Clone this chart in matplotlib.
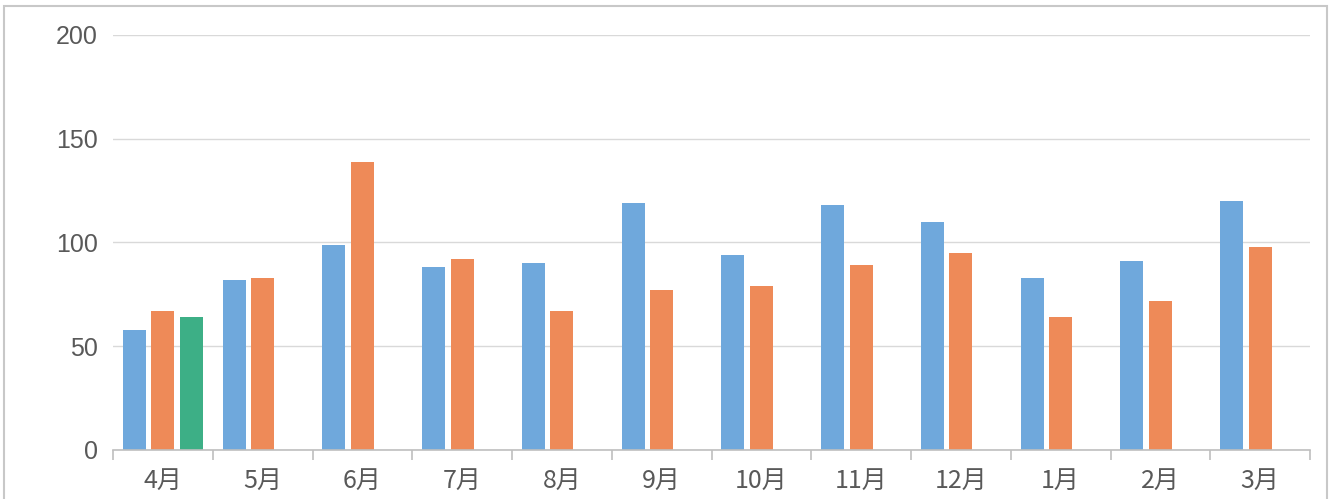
import numpy as np
import matplotlib.pyplot as plt
from matplotlib.patches import Rectangle

plt.rcParams['font.family'] = ['Liberation Sans', 'Noto Sans CJK JP', 'DejaVu Sans']

# data
months = ['4月', '5月', '6月', '7月', '8月', '9月', '10月', '11月', '12月', '1月', '2月', '3月']
series_a = [58, 82, 99, 88, 90, 119, 94, 118, 110, 83, 91, 120]
series_b = [67, 83, 139, 92, 67, 77, 79, 89, 95, 64, 72, 98]
series_c = [64, np.nan, np.nan, np.nan, np.nan, np.nan, np.nan, np.nan, np.nan, np.nan, np.nan, np.nan]

colors = ['#6fa8dc', '#ee8a58', '#3daf86']
text_color = '#595959'

fig = plt.figure(figsize=(13.3, 4.99), dpi=100)
ax = fig.add_axes([0.085, 0.0982, 0.9, 0.8317])

x = np.arange(len(months))
width = 0.23
step = 0.286
for i, (vals, c) in enumerate(zip([series_a, series_b, series_c], colors)):
    ax.bar(x + (i - 1) * step, vals, width, color=c, zorder=2)

ax.set_xlim(-0.5, len(months) - 0.5)
ax.set_ylim(0, 200)
ax.set_yticks([0, 50, 100, 150, 200])
ax.yaxis.grid(True, color='#d9d9d9', linewidth=1)
ax.set_axisbelow(True)

for s in ['top', 'right', 'left']:
    ax.spines[s].set_visible(False)
ax.spines['bottom'].set_color('#bfbfbf')
ax.spines['bottom'].set_linewidth(1.2)

ax.set_xticks(x)
ax.set_xticklabels(months, fontsize=18, color=text_color,
                   family=['Noto Sans CJK JP', 'DejaVu Sans'])
ax.tick_params(axis='x', which='major', length=0, pad=13)
ax.set_xticks(np.arange(-0.5, len(months)), minor=True)
ax.tick_params(axis='x', which='minor', length=7, color='#bfbfbf', width=1.2)
ax.tick_params(axis='y', length=0, labelsize=18, labelcolor=text_color, pad=11)

# outer chart border
fig.patches.append(Rectangle((0.003, -0.05), 0.995, 1.037, transform=fig.transFigure,
                             fill=False, edgecolor='#c8c8c8', linewidth=1.5))

fig.savefig('out.png', dpi=100)
